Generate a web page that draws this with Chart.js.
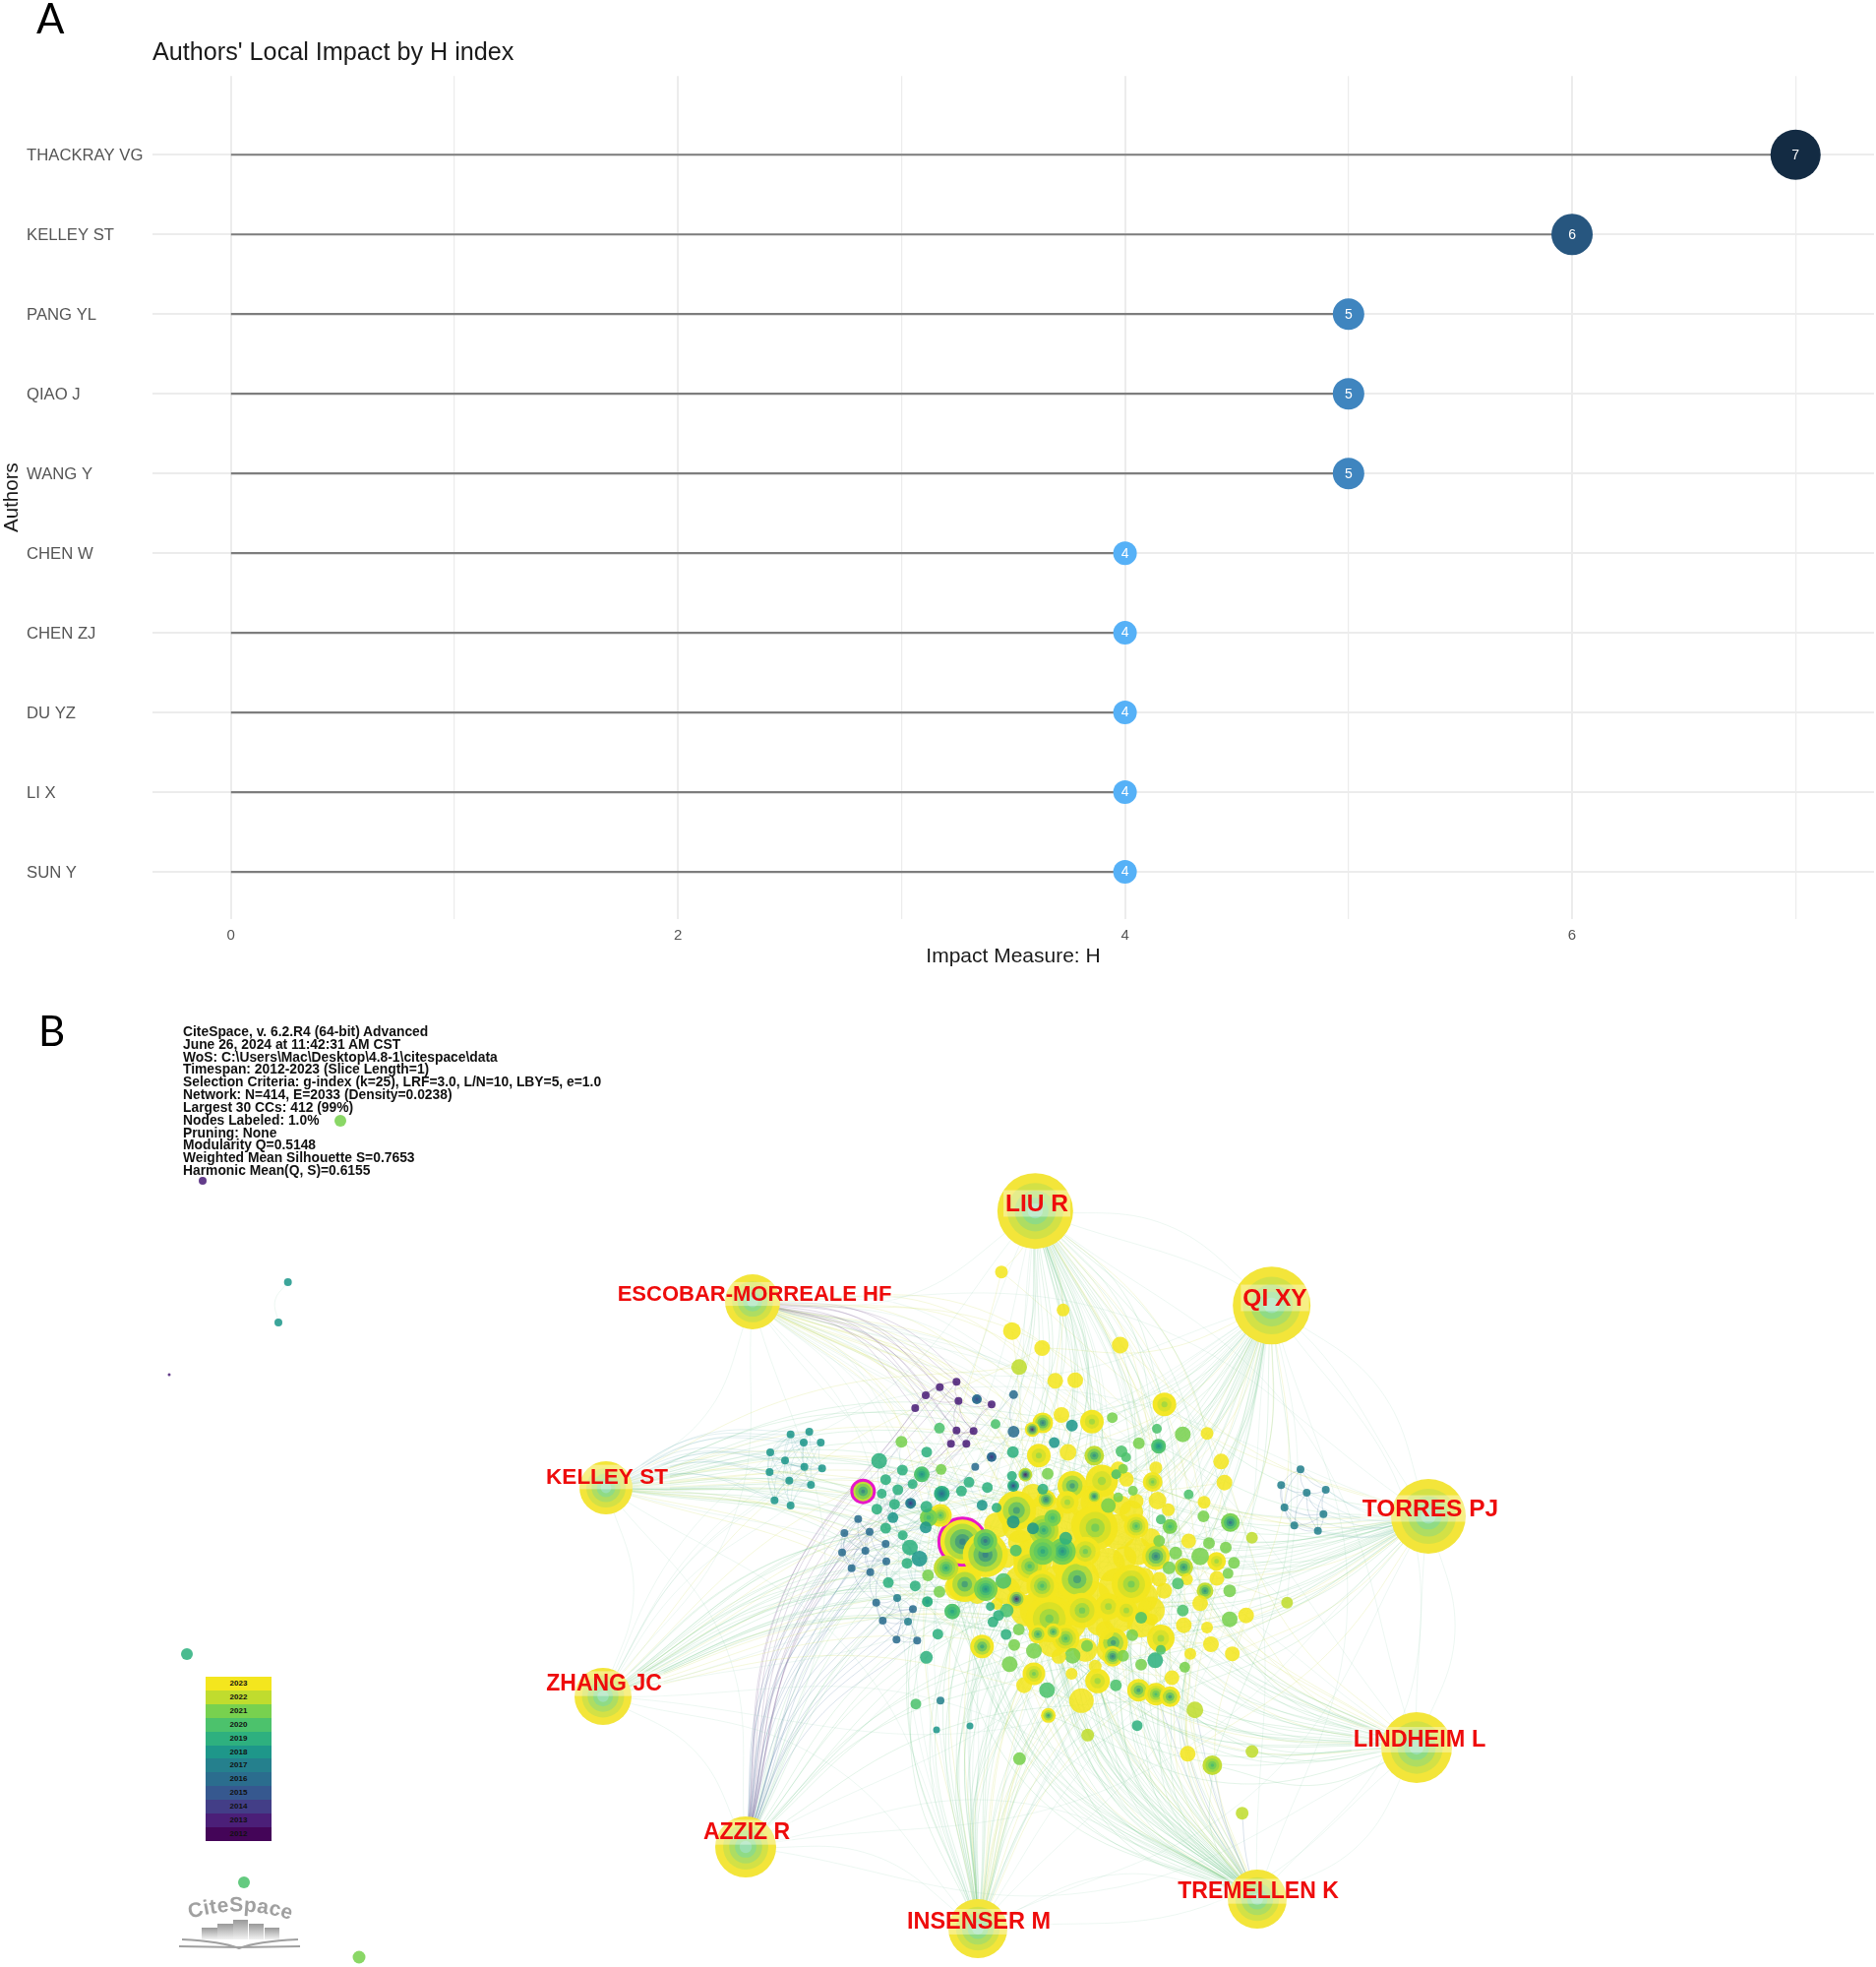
<!DOCTYPE html>
<html>
<head>
<meta charset="utf-8">
<title>Authors' Local Impact and co-citation network</title>
<script src="https://cdn.jsdelivr.net/npm/chart.js@4/dist/chart.umd.min.js"></script>
<style>
  html, body { margin: 0; padding: 0; background: #fff; }
  #page { position: relative; width: 1907px; height: 1999px; overflow: hidden; font-family: "Liberation Sans", Arial, sans-serif; }
  canvas { position: absolute; left: 0; }
  #impactChart { top: 0; }
  #networkChart { top: 1000px; }
  .panel { position: absolute; font-family: Lato, sans-serif; font-size: 42px; line-height: 42px; color: #000; }
  #info { position: absolute; left: 186px; top: 1042px; font-size: 13.85px; line-height: 12.83px; font-weight: bold; color: #111; white-space: pre; }
  #yearKey { position: absolute; left: 209px; top: 1704px; width: 67px; }
  #yearKey div { height: 13.92px; line-height: 13.92px; text-align: center; font-size: 8px; font-weight: bold; color: #111; }
  #logo { position: absolute; left: 170px; top: 1915px; }
</style>
</head>
<body>
<div id="page">
  <canvas id="impactChart" width="1907" height="1000"></canvas>
  <canvas id="networkChart" width="1907" height="999"></canvas>
  <div class="panel" style="left:37px;top:-3px">A</div>
  <div class="panel" style="left:39px;top:1026px">B</div>
  <div id="info"></div>
  <div id="yearKey"></div>
  <svg id="logo" width="150" height="75" viewBox="170 1915 150 75">
    <defs>
      <linearGradient id="barFade" x1="0" y1="0" x2="0" y2="1">
        <stop offset="0" stop-color="#999"/><stop offset="1" stop-color="#f2f2f2"/>
      </linearGradient>
      <path id="logoArc" d="M193 1950 Q245 1934 298 1952"/>
    </defs>
    <text font-family="Liberation Sans" font-weight="bold" font-size="21" fill="#a0a0a0" textLength="104"><textPath href="#logoArc">CiteSpace</textPath></text>
    <rect x="205" y="1959" width="16" height="12" fill="url(#barFade)"/>
    <rect x="221" y="1955" width="16" height="16" fill="url(#barFade)"/>
    <rect x="237" y="1951" width="15" height="20" fill="url(#barFade)"/>
    <rect x="253" y="1955" width="15" height="16" fill="url(#barFade)"/>
    <rect x="269" y="1959" width="15" height="12" fill="url(#barFade)"/>
    <path d="M185 1971 Q225 1973 243 1980 Q261 1973 303 1971 M182 1978 L243 1979 L305 1978" stroke="#a0a0a0" stroke-width="2" fill="none"/>
  </svg>
</div>
<script>
var authors = ['THACKRAY VG', 'KELLEY ST', 'PANG YL', 'QIAO J', 'WANG Y', 'CHEN W', 'CHEN ZJ', 'DU YZ', 'LI X', 'SUN Y']
var hIndex = [7, 6, 5, 5, 5, 4, 4, 4, 4, 4]
var impactTicks = [0, 2, 4, 6]
var dotSize = { 4: 12, 5: 16, 6: 21, 7: 25.5 }
var dotColor = { 4: '#56b1f7', 5: '#3f85bf', 6: '#27567f', 7: '#132b43' }

var infoLines = [
  'CiteSpace, v. 6.2.R4 (64-bit) Advanced',
  'June 26, 2024 at 11:42:31 AM CST',
  'WoS: C:\\Users\\Mac\\Desktop\\4.8-1\\citespace\\data',
  'Timespan: 2012-2023 (Slice Length=1)',
  'Selection Criteria: g-index (k=25), LRF=3.0, L/N=10, LBY=5, e=1.0',
  'Network: N=414, E=2033 (Density=0.0238)',
  'Largest 30 CCs: 412 (99%)',
  'Nodes Labeled: 1.0%',
  'Pruning: None',
  'Modularity Q=0.5148',
  'Weighted Mean Silhouette S=0.7653',
  'Harmonic Mean(Q, S)=0.6155'
]

var years = [2023, 2022, 2021, 2020, 2019, 2018, 2017, 2016, 2015, 2014, 2013, 2012]
var yearColors = ['#f4e61e', '#c0dc2e', '#78d14f', '#4cc26c', '#2eb07f', '#1e978a', '#25808d', '#2b6d8e', '#36588f', '#433e87', '#4b1f78', '#440558']

// labelled authors: name, map x, map y, radius, label x, label y, label size
var hubNames = ['LIU R', 'QI XY', 'ESCOBAR-MORREALE HF', 'KELLEY ST', 'TORRES PJ', 'ZHANG JC', 'LINDHEIM L', 'AZZIZ R', 'INSENSER M', 'TREMELLEN K']
var hubX = [607, 1328, -255, -702, 1806, -711, 1770, -276, 432, 1284]
var hubY = [-358, -70, -81, 486, 573, 1122, 1278, 1581, 1830, 1740]
var hubR = [38.5, 39.5, 28, 27, 38, 29, 36, 31, 30, 30]
var labelX = [612, 1338, -249, -699, 1812, -708, 1779, -273, 435, 1287]
var labelY = [-381, -93, -105, 453, 549, 1083, 1254, 1536, 1809, 1716]
var labelSize = [24.5, 24.5, 22, 22.5, 24.5, 23, 23.5, 23, 23.5, 23]
var hubRingColors = ['#f3e53a', '#d3e146', '#aedd62', '#8fdb85', '#9adfb0']

var yellowMass = [[860, 790, 20], [930, 820, 17], [830, 720, 17], [700, 840, 18], [560, 770, 15], [770, 600, 18], [870, 540, 10], [600, 510, 12],
  [760, 530, 17], [490, 600, 13], [410, 720, 15], [370, 790, 13], [620, 860, 20], [710, 900, 17], [430, 810, 10], [640, 640, 14], [560, 650, 12],
  [520, 700, 10], [800, 900, 12], [880, 700, 12], [700, 720, 14], [940, 760, 10], [560, 600, 18], [640, 560, 18], [700, 600, 20], [800, 530, 18],
  [860, 620, 18], [920, 680, 14], [600, 700, 20], [680, 780, 20], [780, 830, 20], [860, 880, 16], [930, 900, 14], [660, 960, 14], [580, 860, 16],
  [520, 800, 14], [900, 560, 12], [960, 860, 14], [760, 980, 12], [830, 980, 12], [960, 640, 10]]

var yellowDiscs = [[504, -172, 6.5], [692, -56, 6.5], [536, 8, 9], [628, 60, 8], [866, 51, 8.5], [668, 160, 8], [729, 158, 8], [687, 264, 8],
  [707, 378, 8.5], [1131, 320, 6.5], [1174, 406, 8], [1184, 470, 8], [1122, 530, 6.5], [980, 525, 9], [1013, 553, 6.5], [975, 425, 6.5],
  [885, 460, 7.5], [860, 430, 8], [915, 527, 7.5], [1075, 648, 7.5], [1161, 762, 7.5], [985, 765, 7.5], [1070, 765, 6], [1110, 838, 8],
  [1060, 905, 8], [1131, 912, 6], [1250, 875, 8], [1143, 963, 8], [1208, 992, 7.5], [1080, 992, 6], [963, 888, 6], [820, 920, 9.5],
  [679, 1000, 7.5], [573, 1088, 8], [718, 1053, 6], [1024, 1065, 7.5], [790, 1030, 6.5], [1000, 800, 8], [490, 840, 6], [748, 1135, 12.5], [1072, 1297, 8]]

var greenDiscs = [[558, 118, 8, 2022], [842, 272, 5.5, 2021], [978, 306, 5, 2020], [1057, 323, 8, 2021], [486, 292, 5, 2020], [315, 304, 5.5, 2020],
  [719, 296, 6, 2018], [665, 348, 5.5, 2018], [539, 377, 6, 2019], [923, 350, 6, 2021], [870, 375, 6, 2020], [884, 393, 5, 2020], [199, 346, 6, 2021],
  [276, 377, 5.5, 2019], [131, 404, 8, 2019], [202, 432, 5.5, 2019], [320, 430, 5.5, 2021], [151, 461, 5.5, 2019], [405, 469, 5.5, 2019], [233, 475, 5, 2019],
  [188, 492, 5.5, 2019], [139, 504, 5, 2019], [382, 496, 5.5, 2019], [461, 485, 5.5, 2019], [178, 536, 5.5, 2019], [124, 551, 5.5, 2019], [275, 544, 6, 2019],
  [445, 539, 5.5, 2018], [173, 577, 5.5, 2018], [151, 609, 5.5, 2019], [273, 607, 6, 2018], [203, 631, 5, 2019], [225, 668, 8, 2019], [254, 702, 8, 2018],
  [216, 716, 5.5, 2019], [280, 753, 6, 2021], [159, 775, 5.5, 2019], [241, 785, 5.5, 2019], [315, 803, 6, 2021], [310, 932, 5.5, 2019], [275, 1003, 6.5, 2019],
  [243, 1145, 5.5, 2020], [1375, 836, 6, 2022], [1268, 638, 6, 2022], [645, 443, 6, 2021], [854, 445, 5, 2020], [875, 428, 5, 2021], [905, 495, 5, 2021],
  [860, 515, 5, 2021], [830, 540, 7.5, 2021], [1075, 506, 5, 2020], [1120, 573, 6, 2021], [990, 583, 5, 2020], [985, 648, 6, 2021], [1137, 655, 6, 2021],
  [1188, 668, 6, 2021], [1110, 695, 9, 2021], [1213, 715, 6, 2021], [1195, 747, 5.5, 2021], [1035, 685, 6.5, 2021], [1015, 730, 6.5, 2021], [1042, 778, 6, 2020],
  [1200, 800, 6.5, 2021], [1057, 860, 6, 2020], [1200, 887, 8, 2021], [930, 882, 6, 2020], [903, 935, 6, 2021], [990, 980, 5, 2020], [973, 1012, 8, 2019],
  [930, 1025, 6, 2021], [1063, 1033, 5.5, 2021], [875, 998, 6, 2021], [853, 1088, 6, 2020], [765, 968, 6, 2021], [721, 998, 8, 2021], [603, 983, 8, 2021],
  [543, 965, 6, 2021], [529, 1024, 8, 2021], [643, 1103, 8, 2020], [557, 918, 6, 2021], [518, 933, 5.5, 2019], [495, 875, 5.5, 2019], [478, 895, 5.5, 2019],
  [470, 848, 4.5, 2019], [520, 860, 7, 2020], [510, 770, 8, 2020], [548, 677, 6, 2020], [630, 490, 5.5, 2019], [536, 450, 5, 2019], [489, 547, 5, 2019],
  [1094, 1163, 8.5, 2022], [767, 1240, 6.5, 2022], [559, 1312, 6.5, 2021], [1268, 1290, 6.5, 2022], [1238, 1478, 6.5, 2022], [918, 1211, 5.5, 2019],
  [540, 590, 6.5, 2018], [600, 610, 6, 2018], [700, 640, 6.5, 2019]]

// x, y, radius, first year, last year
var ringNodes = [[550, 555, 20, 2017, 2023], [790, 608, 23, 2020, 2023], [633, 615, 15, 2018, 2022], [455, 690, 23, 2016, 2023], [455, 648, 12, 2015, 2021],
  [335, 730, 12.5, 2018, 2022], [392, 780, 18, 2017, 2023], [456, 795, 12, 2017, 2021], [318, 570, 11.5, 2019, 2023], [282, 577, 9, 2019, 2021],
  [590, 725, 16.5, 2019, 2023], [628, 785, 16, 2019, 2023], [735, 765, 22.5, 2017, 2023], [760, 680, 15, 2020, 2023], [650, 885, 24, 2020, 2023],
  [750, 860, 18, 2020, 2023], [700, 945, 14, 2019, 2023], [615, 932, 9.5, 2018, 2023], [662, 925, 8.5, 2018, 2023], [900, 780, 20, 2020, 2023],
  [885, 860, 11.5, 2021, 2023], [830, 848, 13.5, 2021, 2023], [720, 480, 15, 2017, 2023], [810, 465, 16.5, 2021, 2023], [640, 522, 10, 2016, 2023],
  [787, 512, 7.5, 2016, 2023], [705, 530, 11.5, 2021, 2023], [660, 578, 8.5, 2019, 2021], [690, 680, 13.5, 2017, 2021], [630, 680, 13.5, 2018, 2021],
  [550, 825, 9.5, 2012, 2023], [577, 446, 7, 2012, 2022], [915, 603, 12.5, 2019, 2023], [975, 695, 14, 2016, 2023], [1060, 728, 9.5, 2017, 2022],
  [1018, 604, 7.5, 2019, 2021], [1202, 592, 9.5, 2015, 2021], [1125, 800, 8.5, 2017, 2022], [1160, 710, 9.5, 2021, 2023], [965, 468, 10, 2020, 2023],
  [845, 958, 15, 2017, 2023], [843, 1000, 10.5, 2016, 2023], [990, 945, 14, 2021, 2023], [445, 970, 12, 2018, 2023], [603, 1053, 11.5, 2020, 2023],
  [797, 1075, 12.5, 2021, 2023], [922, 1103, 11.5, 2017, 2023], [975, 1115, 11.5, 2019, 2023], [1018, 1123, 10.5, 2017, 2023], [647, 1180, 7.5, 2017, 2023],
  [1001, 232, 12, 2021, 2023], [780, 284, 12, 2021, 2023], [618, 388, 12, 2021, 2023], [787, 388, 10, 2017, 2022], [983, 359, 7.5, 2017, 2020],
  [261, 445, 8, 2017, 2020], [322, 504, 8, 2015, 2019], [354, 863, 8, 2018, 2020], [278, 833, 5.5, 2018, 2019], [630, 288, 10.5, 2016, 2023],
  [598, 308, 7.5, 2012, 2023], [1147, 1332, 10, 2019, 2022]]

var burstNodes = [[82, 497, 11.5, 2016, 2022], [385, 650, 24, 2016, 2023]]

var purpleNodes = [[367, 163, 4, 2013], [316, 179, 4, 2013], [273, 204, 4, 2013], [373, 221, 4, 2013], [474, 232, 4, 2013], [241, 243, 4, 2013],
  [367, 311, 4, 2013], [419, 313, 4, 2013], [350, 352, 4, 2013], [397, 352, 4, 2013]]
var darkRingNodes = [[429, 216, 5, 2014, 2016], [474, 392, 5, 2013, 2016], [540, 480, 6, 2013, 2019], [227, 533, 5.5, 2013, 2017]]

var blueNodes = [[67, 581, 4, 2016], [25, 624, 4, 2016], [102, 620, 4, 2016], [151, 657, 4, 2016], [89, 678, 4, 2016], [18, 683, 4, 2016], [153, 710, 4, 2016],
  [47, 731, 4, 2016], [104, 743, 4, 2016], [122, 836, 4, 2016], [234, 856, 4, 2016], [142, 891, 4, 2016], [184, 949, 4, 2016], [247, 952, 4, 2016],
  [186, 822, 4, 2017], [219, 894, 4, 2017], [541, 202, 4.5, 2016], [541, 315, 6, 2016], [424, 422, 4, 2016]]
var farBlueNodes = [[318, 1135, 4, 2017], [306, 1224, 3.5, 2018], [408, 1212, 3.5, 2018]]
var rightNodes = [[1416, 430, 4, 2017], [1357, 478, 4, 2017], [1435, 501, 4, 2017], [1493, 492, 4, 2017], [1367, 546, 4, 2017], [1397, 601, 4, 2017], [1469, 617, 4, 2017], [1486, 566, 4, 2017]]
var tealNodes = [[-139, 323, 4, 2018], [-82, 315, 4, 2018], [-99, 348, 4, 2018], [-47, 348, 4, 2018], [-201, 378, 4, 2018], [-156, 403, 4, 2018], [-97, 422, 4, 2018],
  [-43, 427, 4, 2018], [-203, 438, 4, 2018], [-143, 464, 4, 2018], [-77, 477, 4, 2018], [-188, 524, 4, 2018], [-139, 540, 4, 2018]]
var strayNodes = [[-1512, -633, 6, 2021], [-1932, -450, 4, 2013], [-1672, -141, 4, 2018], [-1701, -18, 4, 2018], [-2034, 141, 1.5, 2013], [-1980, 993, 6, 2019], [-1806, 1689, 6, 2020], [-1455, 1917, 6.5, 2021]]

function colorOf(year, alpha) {
  var hex = yearColors[years.indexOf(year)]
  return alpha ? hex + alpha : hex
}

// one bubble per tree ring, outermost first; inner rings are see-through so the core stays pastel
function ringsOf(n) {
  var out = []
  var count = n[4] - n[3] + 1
  var step = Math.ceil(count / 5)
  var list = []
  for (var y = n[4]; y > n[3]; y -= step) list.push(y)
  list.push(n[3])
  list.forEach(function (y, i) {
    out.push({
      x: n[0],
      y: n[1],
      r: n[2] * Math.pow((list.length - i) / list.length, 1.25),
      color: colorOf(y, i === 0 ? 'f4' : '80'),
      line: 0
    })
  })
  return out
}

function discOf(n, year) {
  return { x: n[0], y: n[1], r: n[2], color: colorOf(year, 'dd'), line: 0 }
}

function arc(a, b, bend) {
  return [
    { x: a[0], y: a[1] },
    { x: (a[0] + b[0]) / 2 - bend * (b[1] - a[1]), y: (a[1] + b[1]) / 2 + bend * (b[0] - a[0]) },
    { x: b[0], y: b[1] },
    { x: null, y: null }
  ]
}

function every(list, step, start) {
  return list.filter(function (n, i) { return (i + (start || 0)) % step === 0 })
}

function hubAt(i) { return [hubX[i], hubY[i]] }

function fan(hub, targets, bend) {
  var pts = []
  targets.forEach(function (t) { pts = pts.concat(arc(hubAt(hub), t, bend)) })
  return pts
}

function meshOf(list, reach, bend) {
  var pts = []
  list.forEach(function (a, i) {
    list.slice(i + 1).forEach(function (b) {
      if (Math.hypot(a[0] - b[0], a[1] - b[1]) < reach) pts = pts.concat(arc(a, b, bend))
    })
  })
  return pts
}

function linkSet(points, color, width) {
  return { type: 'line', data: points, borderColor: color, borderWidth: width || 0.8, pointRadius: 0, tension: 0.4, fill: false, order: 5, spanGaps: false }
}

var paleGreen = 'rgba(120,200,140,0.26)'
var paleYellow = 'rgba(215,225,110,0.30)'
var paleTeal = 'rgba(90,170,175,0.22)'
var paleBlue = 'rgba(70,115,155,0.26)'
var palePurple = 'rgba(105,70,130,0.26)'
var faint = 'rgba(140,205,175,0.20)'

var ringSpots = ringNodes
var hubPairs = []
hubNames.forEach(function (n, i) {
  hubNames.forEach(function (m, j) {
    if (j > i) hubPairs = hubPairs.concat(arc(hubAt(i), hubAt(j), -0.14))
  })
})

var linkSets = [
  linkSet(hubPairs, faint),
  linkSet(meshOf(greenDiscs.slice(12, 42), 130, 0.08), paleTeal),
  linkSet(meshOf(blueNodes, 130, 0.1), paleBlue),
  linkSet(meshOf(tealNodes, 150, 0.1), paleTeal),
  linkSet(meshOf(rightNodes, 130, 0.1), paleBlue),
  linkSet(meshOf(purpleNodes, 130, 0.12), palePurple),
  linkSet(arc([-1672, -141], [-1701, -18], 0.2), faint),
  linkSet(fan(0, every(ringSpots, 2), -0.12), paleGreen),
  linkSet(fan(0, every(yellowDiscs, 5), -0.1), paleYellow),
  linkSet(fan(0, every(greenDiscs, 9), -0.06), faint),
  linkSet(fan(1, every(ringSpots, 2, 1), -0.1), paleGreen),
  linkSet(fan(1, every(yellowDiscs, 5, 2), -0.1), paleYellow),
  linkSet(fan(1, every(greenDiscs, 9, 3), -0.06), faint),
  linkSet(fan(2, purpleNodes, -0.14), palePurple),
  linkSet(fan(2, every(ringSpots, 3), -0.16), paleYellow),
  linkSet(fan(2, every(greenDiscs, 6), -0.12), faint),
  linkSet(fan(3, tealNodes, -0.12), paleTeal),
  linkSet(fan(3, every(ringSpots, 3), -0.1), paleGreen),
  linkSet(fan(3, every(greenDiscs, 7), -0.08), paleYellow),
  linkSet(fan(4, every(ringSpots, 2), -0.09), paleGreen),
  linkSet(fan(4, rightNodes, -0.12), paleTeal),
  linkSet(fan(4, every(yellowDiscs, 4), -0.08), paleYellow),
  linkSet(fan(5, ringSpots.slice(0, 24), -0.1), paleGreen),
  linkSet(fan(5, every(yellowDiscs, 4, 1), -0.09), paleYellow),
  linkSet(fan(5, every(tealNodes, 3), -0.08), faint),
  linkSet(fan(6, every(ringSpots, 2, 1), -0.14), paleGreen),
  linkSet(fan(6, every(yellowDiscs, 4, 2), -0.11), paleYellow),
  linkSet(fan(7, purpleNodes, -0.12), palePurple),
  linkSet(fan(7, blueNodes, -0.1), paleBlue),
  linkSet(fan(7, every(ringSpots, 4), -0.1), paleGreen),
  linkSet(fan(8, every(ringSpots, 2), -0.12), paleGreen),
  linkSet(fan(8, every(yellowDiscs, 3), -0.1), paleYellow),
  linkSet(fan(8, every(greenDiscs, 8), -0.05), faint),
  linkSet(fan(9, ringSpots, -0.16), paleGreen),
  linkSet(fan(9, every(yellowDiscs, 3, 1), -0.13), paleYellow),
  linkSet(fan(9, [[1147, 1332], [1238, 1478], [1094, 1163], [975, 1115], [1018, 1123]], -0.04), paleBlue)
]

// mass of yellow goes down first, then bubbles from large to small
var baseBubbles = yellowMass.map(function (n) { return discOf(n, 2023) })
var singles = []
yellowDiscs.forEach(function (n) { singles.push([discOf(n, 2023)]) })
greenDiscs.concat(purpleNodes, blueNodes, farBlueNodes, rightNodes, tealNodes, strayNodes).forEach(function (n) { singles.push([discOf(n, n[3])]) })
ringNodes.concat(darkRingNodes).forEach(function (n) { singles.push(ringsOf(n)) })
burstNodes.forEach(function (n) {
  var rings = ringsOf(n)
  rings[0].line = 3
  singles.push(rings)
})
singles.sort(function (a, b) { return b[0].r - a[0].r })

var hubBubbles = []
hubNames.forEach(function (name, i) {
  hubRingColors.forEach(function (c, k) {
    hubBubbles.push({ x: hubX[i], y: hubY[i], r: hubR[i] * [1, 0.74, 0.54, 0.35, 0.2][k], color: c, line: 0 })
  })
})
var bubbles = baseBubbles.concat(hubBubbles)
singles.forEach(function (g) { bubbles = bubbles.concat(g) })

document.getElementById('info').textContent = infoLines.join('\n')
document.getElementById('yearKey').innerHTML = years.map(function (y, i) {
  return '<div style="background:' + yearColors[i] + '">' + y + '</div>'
}).join('')

var impactLabels = {
  id: 'impactLabels',
  afterDatasetsDraw: function (chart) {
    var ctx = chart.ctx
    var x = chart.scales.x
    var y = chart.scales.y
    ctx.save()
    ctx.fillStyle = '#fff'
    ctx.font = '14px "Liberation Sans"'
    ctx.textAlign = 'center'
    ctx.textBaseline = 'middle'
    hIndex.forEach(function (h, i) {
      ctx.fillText(h, x.getPixelForValue(h), y.getPixelForValue(i) + 0.5)
    })
    ctx.translate(12, (chart.chartArea.top + chart.chartArea.bottom) / 2)
    ctx.rotate(-Math.PI / 2)
    ctx.fillStyle = '#1a1a1a'
    ctx.font = '20.5px "Liberation Sans"'
    ctx.fillText('Authors', 0, 0)
    ctx.restore()
  }
}

var stemSets = authors.map(function (a, i) {
  return { type: 'line', label: a, data: [{ x: 0, y: i }, { x: hIndex[i], y: i }], borderColor: '#7d7d7d', borderWidth: 2.2, pointRadius: 0, order: 3 }
})

new Chart(document.getElementById('impactChart'), {
  type: 'bubble',
  plugins: [impactLabels],
  data: {
    datasets: stemSets.concat([{
      type: 'bubble',
      label: 'H index',
      data: hIndex.map(function (h, i) { return { x: h, y: i, r: dotSize[h] } }),
      backgroundColor: hIndex.map(function (h) { return dotColor[h] }),
      borderWidth: 0,
      order: 1
    }])
  },
  options: {
    responsive: false,
    devicePixelRatio: 1,
    animation: false,
    events: [],
    layout: { autoPadding: false, padding: { left: 27, right: 2, top: 0, bottom: 15 } },
    plugins: {
      legend: { display: false },
      tooltip: { enabled: false },
      title: {
        display: true,
        text: "Authors' Local Impact by H index",
        align: 'start',
        fullSize: false,
        color: '#1a1a1a',
        font: { family: 'Liberation Sans', size: 25.2, weight: 'normal', lineHeight: 1.2 },
        padding: { top: 39, bottom: 8 }
      }
    },
    scales: {
      x: {
        type: 'linear',
        min: -0.351,
        max: 7.351,
        afterBuildTicks: function (scale) {
          scale.ticks = [0, 1, 2, 3, 4, 5, 6, 7].map(function (v) { return { value: v } })
        },
        afterFit: function (scale) { scale.height = 51 },
        ticks: {
          autoSkip: false,
          maxRotation: 0,
          padding: 8,
          color: '#555',
          font: { family: 'Liberation Sans', size: 15 },
          callback: function (v) { return impactTicks.indexOf(v) >= 0 ? v : '' }
        },
        grid: {
          drawTicks: false,
          color: '#ececec',
          lineWidth: function (c) { return impactTicks.indexOf(c.tick.value) >= 0 ? 2 : 1.2 }
        },
        border: { display: false },
        title: {
          display: true,
          text: 'Impact Measure: H',
          color: '#1a1a1a',
          padding: { top: 2, bottom: 0 },
          font: { family: 'Liberation Sans', size: 21, weight: 'normal' }
        }
      },
      y: {
        type: 'linear',
        reverse: true,
        min: -0.988,
        max: 9.592,
        afterBuildTicks: function (scale) {
          scale.ticks = authors.map(function (a, i) { return { value: i } })
        },
        afterFit: function (scale) { scale.width = 128 },
        ticks: {
          autoSkip: false,
          crossAlign: 'far',
          labelOffset: 1.5,
          color: '#555',
          font: { family: 'Liberation Sans', size: 16.7 },
          callback: function (v) { return authors[v] }
        },
        grid: { drawTicks: false, color: '#ececec', lineWidth: 2 },
        border: { display: false }
      }
    }
  }
})

var hubLabels = {
  id: 'hubLabels',
  afterDatasetsDraw: function (chart) {
    var ctx = chart.ctx
    var x = chart.scales.x
    var y = chart.scales.y
    ctx.save()
    ctx.textAlign = 'center'
    ctx.textBaseline = 'middle'
    hubNames.forEach(function (name, i) {
      var px = x.getPixelForValue(labelX[i])
      var py = y.getPixelForValue(labelY[i])
      ctx.font = 'bold ' + labelSize[i] + 'px "Liberation Sans"'
      var w = ctx.measureText(name).width
      ctx.fillStyle = 'rgba(255,255,255,0.38)'
      ctx.fillRect(px - w / 2 - 2, py - labelSize[i] * 0.55, w + 4, labelSize[i] * 1.1)
      ctx.fillStyle = '#ee0c0c'
      ctx.fillText(name, px, py + 1)
    })
    ctx.restore()
  }
}

new Chart(document.getElementById('networkChart'), {
  type: 'bubble',
  plugins: [hubLabels],
  data: {
    datasets: linkSets.concat([{
      type: 'bubble',
      label: 'nodes',
      data: bubbles,
      backgroundColor: bubbles.map(function (b) { return b.color }),
      borderColor: '#e816c8',
      borderWidth: bubbles.map(function (b) { return b.line }),
      order: 1
    }])
  },
  options: {
    responsive: false,
    devicePixelRatio: 1,
    animation: false,
    events: [],
    layout: { autoPadding: false, padding: 0 },
    plugins: { legend: { display: false }, tooltip: { enabled: false } },
    scales: {
      x: { type: 'linear', display: false, min: -2550, max: 3171 },
      y: { type: 'linear', display: false, reverse: true, min: -1050, max: 1947 }
    }
  }
})
</script>
</body>
</html>
